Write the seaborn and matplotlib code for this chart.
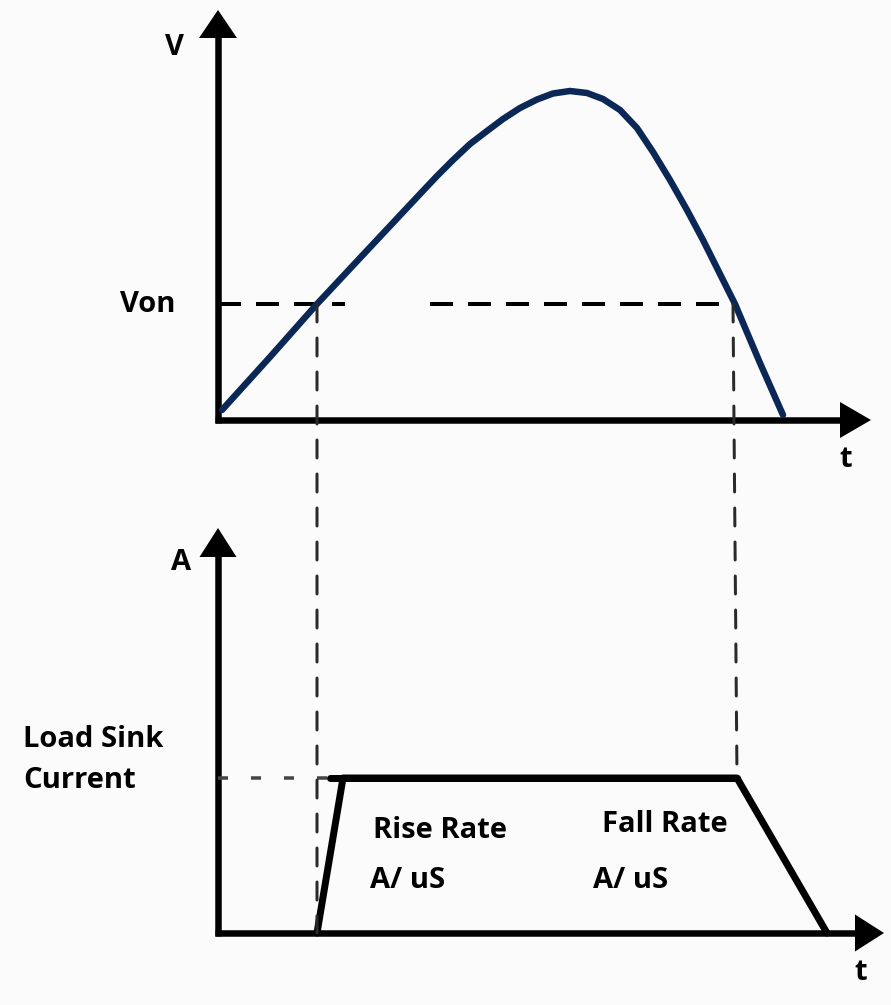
import numpy as np
import pandas as pd
import matplotlib
matplotlib.use("Agg")
import matplotlib.pyplot as plt
from matplotlib.patches import ConnectionPatch
import seaborn as sns

# ---------------- data (diagram units) ----------------
# voltage waveform (top panel)
volt_t = [0.4, 5.2, 9.9, 14.2, 17.2, 20.2, 21.9, 23.5, 25.2, 26.9, 28.5, 30.2,
          31.9, 33.5, 35.2, 36.9, 38.5, 40.2, 41.9, 43.5, 45.2, 46.9, 48.5,
          50.0, 51.7, 54.2, 56.5]
volt_v = [1.0, 6.3, 11.6, 16.2, 19.4, 22.6, 24.4, 26.0, 27.6, 28.9, 30.1, 31.2,
          32.05, 32.65, 32.9, 32.7, 32.1, 31.0, 29.2, 26.8, 24.0, 21.0, 18.0,
          15.0, 11.6, 5.7, 0.5]
v_on = 11.6
t_on_top = 9.9
t_off_top = 51.5
von_segments = [(0.0, 12.7), (21.2, 51.5)]

# load current (bottom panel)
curr_t = [9.9, 12.5, 51.9, 60.9]
curr_i = [0.0, 15.5, 15.5, 0.0]
flat_start = 11.2
i_load = 15.5
t_on_bot = 9.9
t_off_bot = 51.9

# axis extents
top_xmax, top_tip = 62.4, 65.3
top_ymax, top_ytip = 38.2, 41.0
bot_xmax, bot_tip = 63.7, 66.6
bot_ymax, bot_ytip = 37.6, 40.5

labels_top = {"V": (-4.4, 36.5), "Von": (-7.0, 10.8), "t": (62.8, -4.7)}
labels_bot = {"A": (-3.7, 36.3), "t": (64.3, -4.7)}
load_lines = ["Load Sink", "Current"]
rate_labels = [("Rise Rate", 15.5, 9.5), ("A/ uS", 15.2, 4.5),
               ("Fall Rate", 38.4, 10.1), ("A/ uS", 37.5, 4.5)]

# ---------------- style ----------------
sns.set_theme(style="white")
plt.rcParams["font.family"] = ["Open Sans", "DejaVu Sans"]
BG = "#fbfbfb"
NAVY = "#0a2755"
W, H = 891, 1005
fig = plt.figure(figsize=(W / 100, H / 100), dpi=100, facecolor=BG)

top = fig.add_axes([0, 505 / H, 1, 500 / H])
bot = fig.add_axes([0, 0, 1, 505 / H])
for ax in (top, bot):
    ax.set_axis_off()
    ax.patch.set_alpha(0)

PX = 0.72  # points per pixel
AX_LW = 6.5 * PX


def head(ax, tip, base, length_px, halfw_px):
    ax.annotate("", xy=tip, xytext=base,
                arrowprops=dict(arrowstyle=f"-|>,head_length={length_px*PX},head_width={halfw_px*PX}",
                                color="black", lw=0, shrinkA=0, shrinkB=0, mutation_scale=1))


# ---- top axes lines ----
top.plot([0, 0], [-0.3, top_ymax + 0.3], color="black", lw=AX_LW, solid_capstyle="butt")
top.plot([-0.3, top_xmax + 0.3], [0, 0], color="black", lw=AX_LW, solid_capstyle="butt")
head(top, (0, top_ytip), (0, top_ymax), 28, 19)
head(top, (top_tip, 0), (top_xmax, 0), 31, 18)

# ---- Von dashed ----
for a, b in von_segments:
    top.plot([a, b], [v_on, v_on], color="black", lw=4 * PX,
             dashes=(23 / 4, 15 / 4), solid_capstyle="butt")

# ---- voltage curve ----
dfv = pd.DataFrame({"t": volt_t, "v": volt_v})
sns.lineplot(data=dfv, x="t", y="v", sort=False, estimator=None, ax=top,
             color=NAVY, lw=6.5 * PX, solid_capstyle="round", solid_joinstyle="round")
top.set_xlim(-21.8, 67.3); top.set_ylim(-8.0, 42.0)

# ---- bottom axes lines ----
bot.plot([0, 0], [-0.3, bot_ymax + 0.3], color="black", lw=AX_LW, solid_capstyle="butt")
bot.plot([-0.3, bot_xmax + 0.3], [0, 0], color="black", lw=AX_LW, solid_capstyle="butt")
head(bot, (0, bot_ytip), (0, bot_ymax), 29, 18.5)
head(bot, (bot_tip, 0), (bot_xmax, 0), 29, 18.5)

# load current dashed reference
bot.plot([0, flat_start], [i_load, i_load], color="#444444", lw=3.5 * PX,
         dashes=(10 / 3.5, 23 / 3.5), solid_capstyle="butt")

# ---- current trapezoid ----
dfc = pd.DataFrame({"t": curr_t, "i": curr_i})
sns.lineplot(data=dfc, x="t", y="i", sort=False, estimator=None, ax=bot,
             color="black", lw=7 * PX, solid_capstyle="round", solid_joinstyle="round")
bot.plot([flat_start, curr_t[2]], [i_load, i_load], color="black", lw=7 * PX,
         solid_capstyle="round")
bot.set_xlim(-21.8, 67.3); bot.set_ylim(-7.2, 43.3)

# ---- vertical dashed connectors ----
for ta, tb, yb in [(t_on_top, t_on_bot, 0.0), (t_off_top, t_off_bot, i_load)]:
    con = ConnectionPatch(xyA=(ta, v_on), coordsA=top.transData,
                          xyB=(tb, yb), coordsB=bot.transData,
                          color="#2a2a2a", lw=3 * PX, linestyle=(0, (18 / 3, 16 / 3)),
                          zorder=1)
    fig.add_artist(con)

# ---- labels ----
FS = 21
kw = dict(fontsize=FS, fontweight="bold", color="black", va="baseline")
for s, (x, y) in labels_top.items():
    top.text(x, y, s, ha="center", **kw)
for s, (x, y) in labels_bot.items():
    bot.text(x, y, s, ha="center", **kw)
bot.text(-19.5, 18.6, load_lines[0], ha="left", **kw)
bot.text(-19.5, 14.5, load_lines[1], ha="left", **kw)
for s, x, y in rate_labels:
    bot.text(x, y, s, ha="left", **kw)

fig.savefig("out.png", dpi=100, facecolor=BG)
